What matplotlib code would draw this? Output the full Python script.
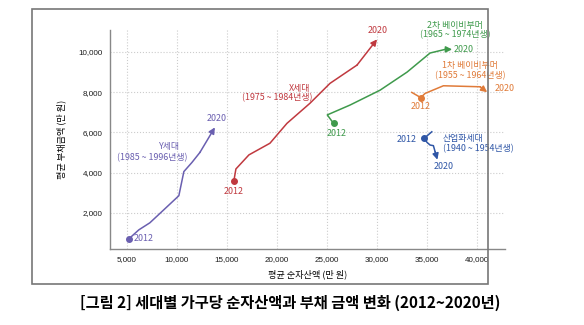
import matplotlib.pyplot as plt
import matplotlib.patches as patches

plt.rcParams['font.family'] = ['Noto Sans CJK KR', 'DejaVu Sans']

# ---- data (만 원) ----
y_gen_x = [5200, 6200, 7300, 8700, 10200, 10700, 11500, 12300, 13800]
y_gen_y = [700, 1150, 1500, 2150, 2850, 4050, 4500, 5000, 6250]

x_gen_x = [15700, 15900, 17200, 19300, 21000, 23300, 25300, 28000, 30000]
x_gen_y = [3600, 4180, 4880, 5460, 6450, 7450, 8440, 9350, 10630]

bb2_x = [25650, 25030, 27300, 30300, 33000, 35300, 36800, 37500]
bb2_y = [6450, 6870, 7360, 8100, 9000, 9950, 10130, 10130]

bb1_x = [33470, 34370, 34800, 36630, 40300, 41000]
bb1_y = [7990, 7730, 7940, 8320, 8270, 8000]

ind_x = [35470, 34700, 35000, 35300, 35630, 35800, 36030]
ind_y = [6030, 5700, 5500, 5370, 5340, 5040, 4640]

xticks = [5000, 10000, 15000, 20000, 25000, 30000, 35000, 40000]
yticks = [2000, 4000, 6000, 8000, 10000]

fig = plt.figure(figsize=(5.84, 3.25), dpi=100)
ax = fig.add_axes([0.188, 0.234, 0.677, 0.674])

def traj(xs, ys, col, start=0):
    ax.plot(xs[:-1], ys[:-1], color=col, lw=1.1, zorder=3)
    ax.annotate('', xy=(xs[-1], ys[-1]), xytext=(xs[-2], ys[-2]),
                arrowprops=dict(arrowstyle='-|>', color=col, lw=1.1,
                                mutation_scale=9, shrinkA=0, shrinkB=0))
    ax.plot(xs[start], ys[start], 'o', color=col, ms=4, zorder=4)

c_y = '#6a5fb0'
c_x = '#c0393f'
c_g = '#3f9a4c'
c_o = '#e07b39'
c_b = '#2f56a6'

traj(y_gen_x, y_gen_y, c_y)
traj(x_gen_x, x_gen_y, c_x)
traj(bb2_x, bb2_y, c_g)
traj(bb1_x, bb1_y, c_o, start=1)
traj(ind_x, ind_y, c_b, start=1)

fs = 6.4
def t(x, y, s, c, ha='center'):
    ax.text(x, y, s, color=c, fontsize=fs, ha=ha, va='center', clip_on=False)

t(9300, 5300, 'Y세대', c_y)
t(7500, 4720, '(1985 ~ 1996년생)', c_y)
t(14000, 6680, '2020', c_y)
t(5700, 700, '2012', c_y, ha='left')

t(22300, 8200, 'X세대', c_x)
t(20000, 7730, '(1975 ~ 1984년생)', c_x)
t(15650, 3050, '2012', c_x)
t(30100, 11050, '2020', c_x)

t(37800, 11300, '2차 베이비부머', c_g)
t(37800, 10850, '(1965 ~ 1974년생)', c_g)
t(37700, 10130, '2020', c_g, ha='left')
t(26000, 5920, '2012', c_g)

t(39300, 9350, '1차 베이비부머', c_o)
t(39300, 8800, '(1955 ~ 1964년생)', c_o)
t(41800, 8190, '2020', c_o, ha='left')
t(34400, 7310, '2012', c_o)

t(36600, 5700, '산업화세대', c_b, ha='left')
t(36550, 5210, '(1940 ~ 1954년생)', c_b, ha='left')
t(33000, 5670, '2012', c_b)
t(36650, 4290, '2020', c_b)

ax.set_xlim(3300, 42800)
ax.set_ylim(200, 11100)
ax.set_xticks(xticks)
ax.set_xticklabels([f'{v:,}' for v in xticks])
ax.set_yticks(yticks)
ax.set_yticklabels([f'{v:,}' for v in yticks])
ax.tick_params(length=0, labelsize=5.8, pad=5, labelcolor='#1a1a1a')
for lb in ax.get_xticklabels() + ax.get_yticklabels():
    lb.set_family('Liberation Sans')
ax.grid(True, color='#cccccc', ls=':', lw=0.8)
for s in ['top', 'right']:
    ax.spines[s].set_visible(False)
for s in ['left', 'bottom']:
    ax.spines[s].set_color('#888888')
    ax.spines[s].set_linewidth(1)

ax.set_xlabel('평균 순자산액 (만 원)', fontsize=6.6, labelpad=5)
ax.set_ylabel('평균 부채금액 (만 원)', fontsize=6.6, labelpad=9)

# outer frame
fig.patches.append(patches.Rectangle((0.055, 0.126), 0.781, 0.846,
                                     transform=fig.transFigure, fill=False,
                                     edgecolor='#777777', lw=1.2))

fig.text(0.497, 0.068, '[그림 2] 세대별 가구당 순자산액과 부채 금액 변화 (2012~2020년)',
         ha='center', va='center', fontsize=11.0, fontweight='bold')

fig.savefig('out.png', dpi=100)
